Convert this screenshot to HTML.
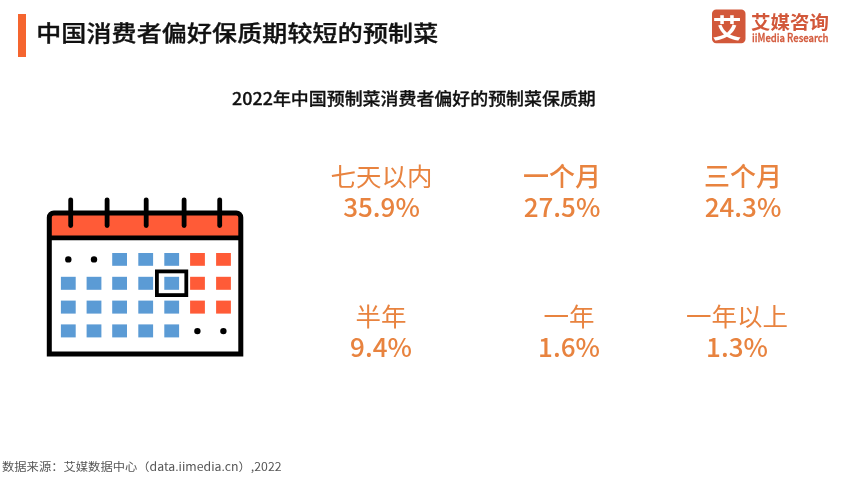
<!DOCTYPE html>
<html lang="zh-CN">
<head>
<meta charset="utf-8">
<title>中国消费者偏好保质期较短的预制菜</title>
<style>
html,body{margin:0;padding:0;background:#fff;}
body{width:863px;height:484px;position:relative;overflow:hidden;font-family:"Liberation Sans","Noto Sans CJK SC",sans-serif;}
.abs{position:absolute;white-space:nowrap;}
.bar{left:18px;top:14px;width:8px;height:43px;background:#F5652F;}
.title{left:36.2px;top:13.3px;font-size:25px;line-height:36px;font-weight:500;letter-spacing:0.13px;color:#111;-webkit-text-stroke:0.4px #111;font-family:"Noto Sans CJK SC","Liberation Sans",sans-serif;transform:scaleY(0.88);transform-origin:0 50%;}
.sub{left:232px;top:83.8px;font-size:17.95px;line-height:26px;font-weight:500;color:#111;-webkit-text-stroke:0.3px #111;font-family:"Noto Sans CJK SC","Liberation Sans",sans-serif;transform:scaleY(0.955);transform-origin:0 50%;}
.stat{width:200px;text-align:center;color:#E8833F;font-size:26px;line-height:32px;font-weight:400;font-family:"Noto Sans CJK SC","Liberation Sans",sans-serif;}
.stat span{display:block;height:32px;position:relative;}
.stat span.l{font-size:25.5px;transform:scaleY(0.97);transform-origin:50% 50%;top:-0.8px;}
.stat span.l.m{font-size:26px;transform:none;top:-1px;}
.stat span.n{top:-2.5px;}
.stat .m{font-weight:500;}
.foot{left:2px;top:456.1px;font-size:12.3px;line-height:20px;color:#555;font-family:"Noto Sans CJK SC","Liberation Sans",sans-serif;transform:scaleY(0.91);transform-origin:0 50%;}
.logo-ai{left:706.8px;top:6.2px;width:40px;text-align:center;font-size:28px;line-height:42px;font-weight:700;color:#fff;font-family:"Noto Sans CJK SC","Liberation Sans",sans-serif;transform:scale(1.04,0.95);}
.logo-cn{left:751px;top:7.2px;font-size:19.5px;line-height:28px;font-weight:700;color:#D2583A;font-family:"Noto Sans CJK SC","Liberation Sans",sans-serif;transform:scaleY(0.945);transform-origin:0 50%;}
.logo-en{left:751.8px;top:29.5px;font-size:11px;line-height:14px;font-weight:500;color:#D2583A;-webkit-text-stroke:0.3px #D2583A;font-family:"Noto Sans CJK SC","Liberation Sans",sans-serif;transform:scaleX(0.865);transform-origin:0 50%;}
</style>
</head>
<body>
<div class="abs bar"></div>
<div class="abs title">中国消费者偏好保质期较短的预制菜</div>
<div class="abs sub">2022年中国预制菜消费者偏好的预制菜保质期</div>

<svg class="abs" style="left:700px;top:0" width="60" height="60" viewBox="700 0 60 60"><rect x="712" y="9.5" width="33.5" height="33.8" rx="4.2" fill="#D2583A"/></svg>
<div class="abs logo-ai">艾</div>
<div class="abs logo-cn">艾媒咨询</div>
<div class="abs logo-en">iiMedia Research</div>

<svg class="abs" style="left:40px;top:190px" width="215" height="175" viewBox="40 190 215 175">
  <!-- calendar body -->
  <path d="M49.3 354.1 V217.5 a4.5 4.5 0 0 1 4.5 -4.5 H236.3 a4.5 4.5 0 0 1 4.5 4.5 V354.1 Z" fill="#fff" stroke="none"/>
  <path d="M49.3 237.5 V217.5 a4.5 4.5 0 0 1 4.5 -4.5 H236.3 a4.5 4.5 0 0 1 4.5 4.5 V237.5 Z" fill="#FF5B37"/>
  <path d="M49.3 354.1 V217.5 a4.5 4.5 0 0 1 4.5 -4.5 H236.3 a4.5 4.5 0 0 1 4.5 4.5 V354.1 Z" fill="none" stroke="#000" stroke-width="5" stroke-linejoin="miter"/>
  <line x1="49.3" y1="237.8" x2="240.8" y2="237.8" stroke="#000" stroke-width="4.8"/>
  <g stroke="#000" stroke-width="4.8" stroke-linecap="round">
    <line x1="70.7" y1="199.8" x2="70.7" y2="225.5"/>
    <line x1="107.1" y1="199.8" x2="107.1" y2="225.5"/>
    <line x1="146.2" y1="199.8" x2="146.2" y2="225.5"/>
    <line x1="184.1" y1="199.8" x2="184.1" y2="225.5"/>
    <line x1="219.7" y1="199.8" x2="219.7" y2="225.5"/>
  </g>
  <g fill="#5B9BD5">
    <rect x="112.2" y="253" width="14.8" height="12.8"/><rect x="138.3" y="253" width="14.8" height="12.8"/><rect x="164.3" y="253" width="14.8" height="12.8"/>
    <rect x="60.9" y="276.8" width="14.8" height="13"/><rect x="86.6" y="276.8" width="14.8" height="13"/><rect x="112.2" y="276.8" width="14.8" height="13"/><rect x="138.3" y="276.8" width="14.8" height="13"/><rect x="164.3" y="276.8" width="14.8" height="13"/>
    <rect x="60.9" y="300.6" width="14.8" height="13"/><rect x="86.6" y="300.6" width="14.8" height="13"/><rect x="112.2" y="300.6" width="14.8" height="13"/><rect x="138.3" y="300.6" width="14.8" height="13"/><rect x="164.3" y="300.6" width="14.8" height="13"/>
    <rect x="60.9" y="324.4" width="14.8" height="13"/><rect x="86.6" y="324.4" width="14.8" height="13"/><rect x="112.2" y="324.4" width="14.8" height="13"/><rect x="138.3" y="324.4" width="14.8" height="13"/><rect x="164.3" y="324.4" width="14.8" height="13"/>
  </g>
  <g fill="#FF5B37">
    <rect x="190.1" y="253" width="14.8" height="12.8"/><rect x="216.1" y="253" width="14.8" height="12.8"/>
    <rect x="190.1" y="276.8" width="14.8" height="13"/><rect x="216.1" y="276.8" width="14.8" height="13"/>
    <rect x="190.1" y="300.6" width="14.8" height="13"/><rect x="216.1" y="300.6" width="14.8" height="13"/>
  </g>
  <g fill="#000">
    <circle cx="68.3" cy="259.4" r="3.2"/><circle cx="94" cy="259.4" r="3.2"/>
    <circle cx="197.4" cy="331.1" r="3.2"/><circle cx="223.4" cy="331.1" r="3.2"/>
  </g>
  <rect x="156.9" y="271.4" width="29.4" height="23.7" fill="none" stroke="#000" stroke-width="3.8"/>
</svg>

<div class="abs stat" style="left:281.5px;top:160px"><span class="l">七天以内</span><span class="n m">35.9%</span></div>
<div class="abs stat" style="left:462px;top:160px"><span class="l m">一个月</span><span class="n m">27.5%</span></div>
<div class="abs stat" style="left:643px;top:160px"><span class="l m">三个月</span><span class="n m">24.3%</span></div>
<div class="abs stat" style="left:281px;top:300px"><span class="l">半年</span><span class="n m">9.4%</span></div>
<div class="abs stat" style="left:469px;top:300px"><span class="l">一年</span><span class="n m">1.6%</span></div>
<div class="abs stat" style="left:637px;top:300px"><span class="l">一年以上</span><span class="n m">1.3%</span></div>

<div class="abs foot">数据来源：艾媒数据中心（data.iimedia.cn）,2022</div>
</body>
</html>
